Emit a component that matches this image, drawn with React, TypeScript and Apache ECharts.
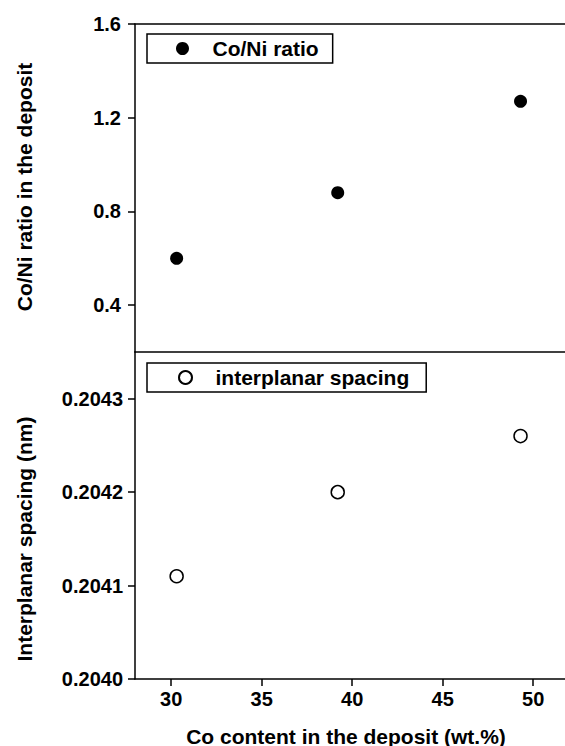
import React, { useEffect, useRef } from "react";
import * as echarts from "echarts";

const coContent = [30.3, 39.2, 49.3];
const coNiRatio = [0.6, 0.88, 1.27];
const spacing = [0.20411, 0.2042, 0.20426];

const xTicks = [30, 35, 40, 45, 50];
const ratioTicks = [0.4, 0.8, 1.2, 1.6];
const spacingTicks = [0.204, 0.2041, 0.2042, 0.2043];

const FONT = "'Liberation Sans', Arial, sans-serif";

export default function App() {
  const ref = useRef<HTMLDivElement>(null);
  useEffect(() => {
    if (!ref.current) return;
    const chart = echarts.init(ref.current, undefined, { renderer: "svg" });
    const axisLine = { show: true, lineStyle: { color: "#000", width: 1.5 } };
    const label = { color: "#000", fontSize: 20, fontWeight: "bold" as const, fontFamily: FONT };
    const plainX = {
      type: "value" as const, min: 28, max: 53,
      axisLine, axisTick: { show: false }, axisLabel: { show: false }, splitLine: { show: false },
    };
    chart.setOption({
      animation: false,
      grid: [
        { left: 135, top: 24, width: 452.5, height: 328, outerBoundsMode: "none", containLabel: false },
        { left: 135, top: 352, width: 452.5, height: 327, outerBoundsMode: "none", containLabel: false },
      ],
      xAxis: [
        { ...plainX, gridIndex: 0, position: "bottom" },
        {
          gridIndex: 1, type: "value", min: 28, max: 53, position: "bottom",
          axisLine,
          axisTick: { show: true, length: 7, customValues: xTicks, lineStyle: { color: "#000", width: 1.5 } },
          axisLabel: { ...label, margin: 10, customValues: xTicks },
          splitLine: { show: false },
        },
        { ...plainX, gridIndex: 0, position: "top" },
      ],
      yAxis: [
        {
          gridIndex: 0, type: "value", min: 0.2, max: 1.6,
          axisLine,
          axisTick: { show: true, length: 7, customValues: ratioTicks, lineStyle: { color: "#000", width: 1.5 } },
          axisLabel: { ...label, margin: 14, customValues: ratioTicks, formatter: (v: number) => v.toFixed(1) },
          splitLine: { show: false },
        },
        {
          gridIndex: 1, type: "value", min: 0.204, max: 0.20435,
          axisLine,
          axisTick: { show: true, length: 7, customValues: spacingTicks, lineStyle: { color: "#000", width: 1.5 } },
          axisLabel: { ...label, margin: 12, customValues: spacingTicks, formatter: (v: number) => v.toFixed(4) },
          splitLine: { show: false },
        },
      ],
      legend: [
        {
          data: ["Co/Ni ratio"], left: 147, top: 34, orient: "vertical",
          borderColor: "#000", borderWidth: 1.5, padding: [4, 14, 4, 29],
          itemWidth: 50, itemHeight: 13, itemGap: 0,
          textStyle: { color: "#000", fontSize: 21, fontWeight: "bold", fontFamily: FONT },
        },
        {
          data: ["interplanar spacing"], left: 147, top: 363, orient: "vertical",
          borderColor: "#000", borderWidth: 1.5, padding: [4, 17, 4, 31],
          itemWidth: 50, itemHeight: 13, itemGap: 0,
          textStyle: { color: "#000", fontSize: 21, fontWeight: "bold", fontFamily: FONT },
        },
      ],
      series: [
        {
          name: "Co/Ni ratio", type: "scatter", xAxisIndex: 0, yAxisIndex: 0,
          symbol: "circle", symbolSize: 13, clip: false,
          itemStyle: { color: "#000", opacity: 1 },
          data: coContent.map((x, i) => [x, coNiRatio[i]]),
        },
        {
          name: "interplanar spacing", type: "scatter", xAxisIndex: 1, yAxisIndex: 1,
          symbol: "circle", symbolSize: 13, clip: false,
          itemStyle: { color: "#fff", borderColor: "#000", borderWidth: 1.5, opacity: 1 },
          data: coContent.map((x, i) => [x, spacing[i]]),
        },
      ],
      graphic: [
        {
          type: "text", x: 24, y: 187, rotation: Math.PI / 2,
          style: { text: "Co/Ni ratio in the deposit", fill: "#000", font: `bold 21px ${FONT}`, align: "center", verticalAlign: "middle" },
        },
        {
          type: "text", x: 24, y: 539, rotation: Math.PI / 2,
          style: { text: "Interplanar spacing (nm)", fill: "#000", font: `bold 21px ${FONT}`, align: "center", verticalAlign: "middle" },
        },
        {
          type: "text", x: 346, y: 736,
          style: { text: "Co content in the deposit (wt.%)", fill: "#000", font: `bold 21px ${FONT}`, align: "center", verticalAlign: "middle" },
        },
      ],
    });
    return () => chart.dispose();
  }, []);
  return (
    <div
      ref={ref}
      style={{ position: "absolute", left: 0, top: 0, width: 565, height: 746, overflow: "hidden", background: "#fff" }}
    />
  );
}
